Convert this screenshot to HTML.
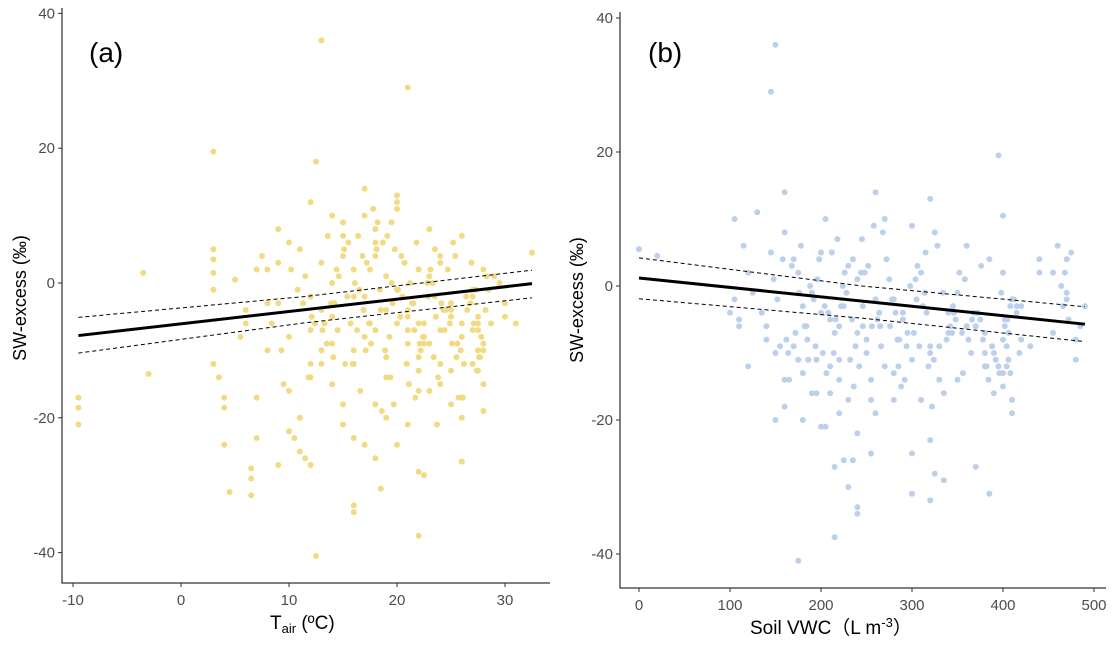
<!DOCTYPE html>
<html><head><meta charset="utf-8"><style>
body{margin:0;background:#fff;}
svg text{font-family:"Liberation Sans",Arial,sans-serif;}
</style></head><body>
<svg id="c" width="1118" height="646" xmlns="http://www.w3.org/2000/svg">
<g id="pa"></g>
<g id="pb"></g>
</svg>
<script>
// Panel A data: Tair (°C) vs SW-excess
const aX=[-9.5,-9.5,-9.5,-3.5,-3,3,3,3,3,3,3,3.5,4,4,4,4.5,6.5,6.5,6.5,7,13,12.5,21,12.5,22,22,18.5,16,16,18,26,22.5,
5,6,7,8,9,10,11,12,13,14,15,16,17,18,19,20,21,22,23,24,25,26,27,28,29,30,
5.5,7.5,9.5,11.5,13.5,15.5,17.5,19.5,21.5,23.5,25.5,27.5,29.5,
6,8,10,12,14,16,18,20,22,24,26,28,30,
7,9,11,13,15,17,19,21,23,25,27,
8,10,12,14,16,18,20,22,24,26,28,
9,11,13,15,17,19,21,23,25,27,
10,12,14,16,18,20,22,24,26,28,
11,13,15,17,19,21,23,25,27,
12,14,16,18,20,22,24,26,28,
16.5,17.5,18.5,19.5,20.5,21.5,23.5,24.5,27.5,27.5,27.5,27.5,22.5,22.5,22.5,10.5,11.5,12,14.5,19,20,25,26.5,28.5,31,32.5,9,15,17,21,24,
14.2,15.1,16.3,17.2,18.4,19.1,20.3,21.2,22.4,23.1,24.3,25.2,26.4,27.1,28.3,
14.6,15.7,16.8,17.6,18.7,19.6,20.7,21.6,22.8,23.6,24.7,25.6,26.8,27.6,
13.3,14.4,15.4,16.4,17.4,18.2,19.3,20.4,21.4,22.2,23.3,24.4,25.4,26.2,27.3,28.7,
12.1,13.6,15.9,16.9,17.8,18.9,19.8,20.9,21.8,22.9,23.8,24.9,25.9,26.9,27.8,
10.2,11.3,12.4,13.9,15.2,16.1,17.1,18.1,19.4,20.1,21.1,22.1,23.4,24.1,25.1,26.1,27.4,28.2,
8.4,9.3,10.8,11.8,13.1,14.1,16.6,18.6,19.7,21.7,23.7,25.7,27.7];
const aY=[-17,-18.5,-21,1.5,-13.5,19.5,5,3.5,1.5,-1,-12,-14,-17,-18.5,-24,-31,-27.5,-29,-31.5,-23,36,18,29,-40.5,-37.5,-28,-30.5,-33,-34,-26,-26.5,-28.5,
0.5,-6,2,-3,8,-8,5,-12,3,-5,9,-2,14,6,-4,11,-7,2,-9,4,-3,7,-1,-10,1,-3,
-8,4,-15,1,-9,6,-6,9,-3,5,-11,-6,0,
-4,-10,6,-2,10,-12,8,-1,-6,3,-8,2,-5,
-17,3,-20,-4,4,10,-11,-5,8,-13,-2,
2,-22,-7,-15,-10,4,12,-13,3,-17,-9,
-3,-25,-10,7,-8,1,-4,-16,-4,-12,
-16,12,-9,2,-18,13,-11,-7,-20,-15,
-20,-12,-18,-2,-14,-9,1,-18,-7,
-27,0,-23,-7,-6,-16,-12,-6,-19,
-1,2,-4,0,-2,-3,-2,-4,-5,-7,-10,-13,-6,-8,-9,-23,-26,-14,-7,-20,-24,-5,-4,-1,-6,4.5,-27,-21,-24,-21,-15,
-3,5,-7,3,-1,7,-5,0,-8,2,-4,6,-2,-6,1,
1,-6,4,-9,6,-3,3,-7,0,-5,2,-9,-3,-11,
-6,2,-2,7,-6,9,-8,4,-3,-10,0,-7,4,-12,-1,-6,
-5,7,-12,-4,11,-10,5,-12,6,-2,-14,-6,-10,3,-8,
2,-3,-6,-3,-12,0,-10,5,-14,-1,-15,-9,-11,-3,-9,-17,-13,-4,
-6,-10,-1,-14,-7,-11,-16,-19,-18,-17,-21,-17,-11];
const aFit=[-9.5,-7.8,32.5,-0.1];
const aCIx=[-9.5,11.5,32.5];const aCIu=[-5.1,-2.0,1.9];const aCIl=[-10.4,-5.9,-2.2];
const aXticks=[-10,0,10,20,30];const aYticks=[40,20,0,-20,-40];

// Panel B data: Soil VWC vs SW-excess
const bX=[0,20,150,145,175,215,395,400,385,240,240,230,475,490,480,105,110,160,
100,120,140,160,180,200,220,240,260,280,300,320,340,360,380,400,420,440,460,
110,130,150,170,190,210,230,250,270,290,310,330,350,370,390,410,430,470,
105,125,145,165,185,205,225,245,265,285,305,325,345,365,385,405,
115,135,155,175,195,215,235,255,275,295,315,335,355,375,395,415,455,
120,140,160,180,200,220,240,260,280,300,320,340,360,380,400,420,
150,170,190,210,230,250,270,290,310,330,350,390,410,
160,180,200,220,240,260,280,300,320,380,400,
175,195,215,235,255,325,335,205,225,255,300,320,320,370,400,470,470,455,480,485,440,415,
152,168,184,196,208,218,228,238,248,262,272,286,298,312,328,344,358,372,388,402,412,
158,172,188,202,212,222,232,244,256,268,282,294,306,318,334,348,362,376,392,406,418,
148,164,178,192,206,216,226,236,246,258,276,292,304,316,338,352,366,382,398,410,
162,176,186,198,210,224,234,242,252,266,278,288,302,314,324,342,356,368,384,404,
182,194,204,214,220,246,264,284,308,322,346,378,396,408,
402,404,406,408,464,466,468,472];
const bY=[5.5,4.5,36,29,-41,-37.5,19.5,10.5,-31,-34,-33,-30,5,-3,-8,10,-5,14,
-4,2,-8,8,-3,5,-6,1,14,-2,9,13,-4,6,-7,2,-3,4,6,
-6,11,-10,4,-1,-12,3,-8,10,-5,2,-9,-1,-6,-10,-2,-9,-2,
-2,-1,5,-14,-8,10,-3,7,-6,-12,-2,8,-3,-10,4,-5,
6,-4,-9,2,-11,-7,4,-17,1,-7,5,-16,-7,-5,-12,-3,2,
-12,-6,-18,-13,-4,-14,-7,-2,-13,-11,-10,-7,-6,-10,-15,-8,
-20,-9,-16,-5,-17,-10,-12,-4,-17,-14,-14,-16,-19,
-14,-20,-21,-11,-22,-19,-17,-25,-9,-12,-13,
-11,-16,-27,-26,-25,-28,-29,-21,-26,-14,-31,-32,-23,-27,-8,-1,4,-7,-11,-6,2,-4,
-2,3,-6,1,-4,7,-1,-9,2,-5,4,-8,0,-3,6,-7,1,-4,-9,-5,-2,
4,-7,0,-10,5,-3,-11,2,-6,8,-4,-9,3,-12,-1,-5,-8,3,-11,-7,-10,
1,-10,6,-2,-13,-5,2,-15,-3,9,-6,-14,1,-4,-8,2,-5,-12,-1,-17,
-8,-1,-11,4,-16,0,-5,-12,3,-9,-2,-15,-7,-1,-11,-6,-13,-4,-14,-12,
-6,-9,-3,-10,-19,-6,-4,-8,-9,-18,-4,-8,-13,-3,
-6,-9,-11,-13,0,-3,2,-5];
const bFit=[0,1.2,490,-5.7];
const bCIx=[0,245,490];const bCIu=[4.2,0.0,-3.1];const bCIl=[-1.9,-4.8,-8.3];
const bXticks=[0,100,200,300,400,500];const bYticks=[40,20,0,-20,-40];

const NS="http://www.w3.org/2000/svg";
function mk(p,t,a){const e=document.createElementNS(NS,t);for(const k in a)e.setAttribute(k,a[k]);p.appendChild(e);return e;}

function panel(g,cfg){
  const sx=v=>cfg.x0+(v-cfg.xv0)*cfg.kx, sy=v=>cfg.y0-(v-0)*cfg.ky;
  for(let i=0;i<cfg.X.length;i++){
    const c=mk(g,'circle',{cx:sx(cfg.X[i]),cy:sy(cfg.Y[i]),r:3,fill:cfg.col});
    
    
  }
  const ci=(arr,name)=>{const d=cfg.CIx.map((x,i)=>(i?'L':'M')+sx(x)+','+sy(arr[i])).join(' ');
    const p=mk(g,'path',{d:d,fill:'none',stroke:'#000','stroke-width':1,'stroke-dasharray':'4,3'});
    
    };
  ci(cfg.CIu,'ci-upper');ci(cfg.CIl,'ci-lower');
  const f=cfg.fit;
  const fl=mk(g,'line',{x1:sx(f[0]),y1:sy(f[1]),x2:sx(f[2]),y2:sy(f[3]),stroke:'#000','stroke-width':3});
  
  
  const ax=mk(g,'path',{d:`M${cfg.left},${cfg.top}V${cfg.bottom}H${cfg.right}`,fill:'none',stroke:'#000','stroke-width':1});
  
  
  cfg.xt.forEach(v=>{mk(g,'line',{x1:sx(v),x2:sx(v),y1:cfg.bottom,y2:cfg.bottom+4,stroke:'#333'});
    const t=mk(g,'text',{x:sx(v),y:cfg.bottom+22,'text-anchor':'middle','font-size':15,fill:'#4d4d4d'});t.textContent=v;
    
    });
  cfg.yt.forEach(v=>{mk(g,'line',{x1:cfg.left-4,x2:cfg.left,y1:sy(v),y2:sy(v),stroke:'#333'});
    const t=mk(g,'text',{x:cfg.left-7,y:sy(v)+5,'text-anchor':'end','font-size':15,fill:'#4d4d4d'});t.textContent=v;
    
    });
}
panel(document.getElementById('pa'),{X:aX,Y:aY,col:'#f0db82',fit:aFit,CIx:aCIx,CIu:aCIu,CIl:aCIl,xt:aXticks,yt:aYticks,
  x0:181,xv0:0,kx:10.8,y0:283,ky:6.74,left:62,right:550,top:8,bottom:583});
panel(document.getElementById('pb'),{X:bX,Y:bY,col:'#bcd0ec',fit:bFit,CIx:bCIx,CIu:bCIu,CIl:bCIl,xt:bXticks,yt:bYticks,
  x0:639,xv0:0,kx:0.91,y0:286,ky:6.7,left:620,right:1106,top:12,bottom:588});
</script>
<svg width="1118" height="646" style="position:absolute;left:0;top:0">
<text x="89" y="62" font-size="28">(a)</text>
<text x="648" y="62" font-size="28">(b)</text>
<text transform="translate(26,298) rotate(-90)" text-anchor="middle" font-size="18">SW-excess (‰)</text>
<text transform="translate(583,300) rotate(-90)" text-anchor="middle" font-size="18">SW-excess (‰)</text>
<text x="270" y="629" font-size="19">T<tspan font-size="13" dy="4">air</tspan><tspan dy="-4"> (ºC)</tspan></text>
<text x="750" y="634" font-size="19">Soil VWC（L m<tspan font-size="13" dy="-7">-3</tspan><tspan dy="7">）</tspan></text>
</svg>
</body></html>
